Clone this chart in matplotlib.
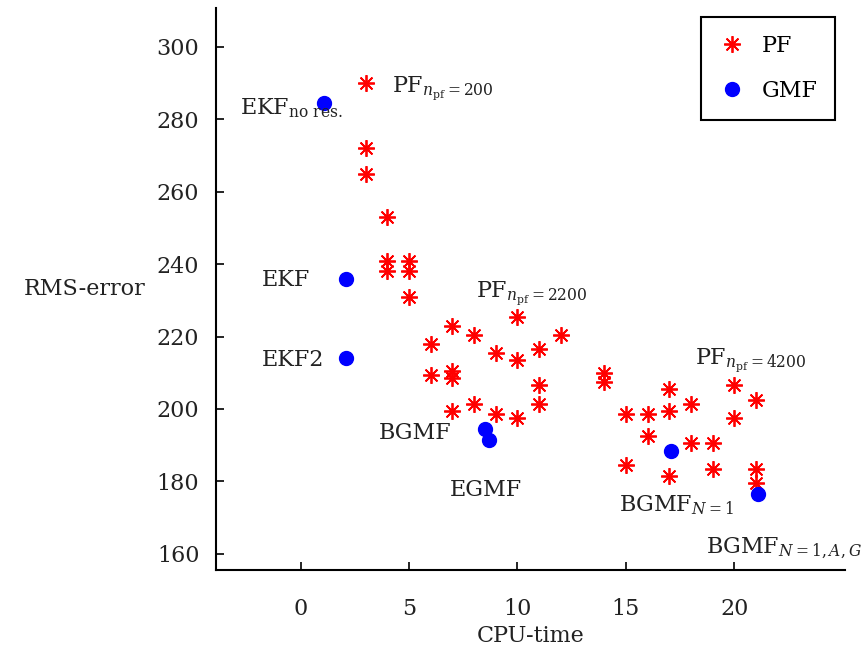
import numpy as np
import matplotlib
matplotlib.use("Agg")
import matplotlib.pyplot as plt

plt.rcParams['font.family'] = ['DejaVu Serif']
plt.rcParams['mathtext.fontset'] = 'dejavuserif'

# PF runs: CPU-time vs RMS-error
pf_time = [3, 3, 3, 4, 4, 4, 5, 5, 5,
           6, 7, 8, 10, 12, 11, 9, 10, 6, 7, 7,
           14, 14, 11, 11, 8, 7, 9, 10,
           15, 16, 17, 17, 18, 20, 21, 20, 16, 18, 19, 15, 17, 19, 21, 21]
pf_rms = [290, 272, 265, 253, 241, 238, 241, 238, 231,
          218, 223, 220.5, 225.5, 220.5, 216.5, 215.5, 213.5, 209.5, 210.5, 208.5,
          210, 207.5, 206.5, 201.5, 201.5, 199.5, 198.5, 197.5,
          198.5, 198.5, 199.5, 205.5, 201.5, 206.5, 202.5, 197.5, 192.5, 190.5, 190.5,
          184.5, 181.5, 183.5, 183.5, 179.5]

# GMF variants
gmf_time = [1.1, 2.1, 2.1, 8.5, 8.7, 17.1, 21.1]
gmf_rms = [284.5, 236, 214, 194.5, 191.5, 188.5, 176.5]

# annotation labels (text, x, y)
labels = [
    (r'PF$_{n_{\rm pf}=200}$', 4.2, 288.5),
    (r'EKF$_{\rm no\ res.}$', -2.8, 283),
    ('EKF', -1.8, 235.5),
    ('EKF2', -1.8, 213.5),
    (r'PF$_{n_{\rm pf}=2200}$', 8.1, 232),
    (r'PF$_{n_{\rm pf}=4200}$', 18.2, 213.5),
    ('BGMF', 3.6, 193.5),
    ('EGMF', 6.9, 177.5),
    (r'BGMF$_{N=1}$', 14.7, 173.5),
    (r'BGMF$_{N=1,A,G}$', 18.7, 161.5),
]

fig = plt.figure(figsize=(8.64, 6.46), dpi=100)
ax = fig.add_axes([0.25, 0.118, 0.728, 0.87])

ax.plot(pf_time, pf_rms, linestyle='none', marker=(8, 2, 0), markersize=12,
        markeredgecolor='red', markeredgewidth=1.3, color='red', label='PF')
ax.plot(gmf_time, gmf_rms, linestyle='none', marker='o', markersize=10,
        color='blue', label='GMF')

for txt, x, y in labels:
    ax.text(x, y, txt, fontsize=16, va='center', ha='left', color='#222222',
            clip_on=False)

ax.set_xlim(-3.9, 25.1)
ax.set_ylim(155.6, 310.8)
ax.set_xticks([0, 5, 10, 15, 20])
ax.set_yticks(range(160, 301, 20))
ax.tick_params(direction='in', labelsize=16, length=6, width=1.2, pad=12,
               labelcolor='#222222')
ax.tick_params(axis='x', pad=20)
for s in ['top', 'right']:
    ax.spines[s].set_visible(False)
for s in ['left', 'bottom']:
    ax.spines[s].set_linewidth(1.5)

ax.set_xlabel('CPU-time', fontsize=16, color='#222222', labelpad=4)
ax.set_ylabel('RMS-error', fontsize=16, color='#222222', rotation=0,
              ha='right', va='center', labelpad=8)

leg = ax.legend(loc='upper right', bbox_to_anchor=(0.984, 0.984),
                borderaxespad=0, fontsize=16,
                fancybox=False, framealpha=1, edgecolor='black',
                borderpad=0.8, labelspacing=1.05, handletextpad=0.7,
                handlelength=1.2, numpoints=1)
leg.get_frame().set_linewidth(1.5)

fig.savefig('out.png', dpi=100)
